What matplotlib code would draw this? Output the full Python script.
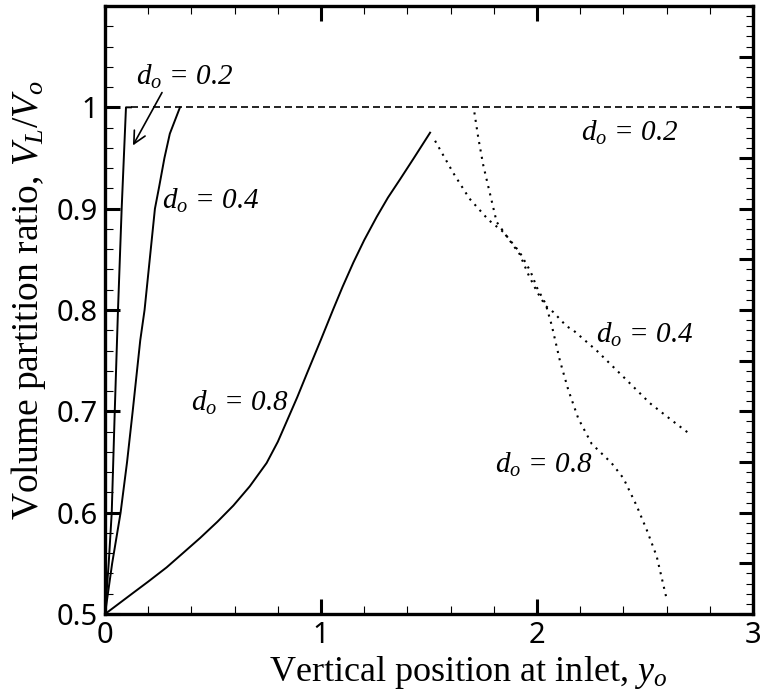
import numpy as np
import matplotlib.pyplot as plt
from matplotlib.ticker import MultipleLocator

plt.rcParams['font.family'] = ['Liberation Serif', 'DejaVu Serif']
plt.rcParams['mathtext.fontset'] = 'custom'
plt.rcParams['mathtext.rm'] = 'Liberation Serif'
plt.rcParams['mathtext.it'] = 'Liberation Serif:italic'

# solid parts (left branch of each d_o)
x02 = [0, 0.017, 0.031, 0.045, 0.060, 0.077, 0.097, 0.12]
y02 = [0.5, 0.55, 0.6, 0.7, 0.8, 0.9, 1.0, 1.0]
x04 = [0, 0.033, 0.072, 0.102, 0.128, 0.163, 0.183, 0.207, 0.231, 0.25, 0.275, 0.30, 0.347]
y04 = [0.5, 0.55, 0.6, 0.65, 0.7, 0.77, 0.8, 0.85, 0.9, 0.921, 0.95, 0.974, 1.0]
x08 = [0, 0.05, 0.131, 0.2, 0.285, 0.36, 0.44, 0.52, 0.594, 0.67, 0.748, 0.80, 0.841,
       0.89, 0.934, 1.0, 1.057, 1.10, 1.15, 1.20, 1.258, 1.31, 1.366, 1.43, 1.505]
y08 = [0.5, 0.508, 0.521, 0.532, 0.546, 0.560, 0.575, 0.591, 0.607, 0.626, 0.649, 0.670, 0.690,
       0.714, 0.737, 0.771, 0.801, 0.823, 0.847, 0.869, 0.892, 0.911, 0.929, 0.950, 0.975]

# right branches
x02r = [0.12, 3.0]
y02r = [1.0, 1.0]
x04r = [1.71, 1.728, 1.751, 1.782, 1.813, 1.862, 1.92, 1.96, 2.0, 2.04, 2.075, 2.137,
        2.168, 2.276, 2.40, 2.523, 2.631, 2.705]
y04r = [0.995, 0.970, 0.943, 0.915, 0.887, 0.872, 0.855, 0.835, 0.818, 0.804, 0.798, 0.784,
        0.780, 0.760, 0.734, 0.708, 0.690, 0.678]
x08r = [1.528, 1.613, 1.687, 1.775, 1.844, 1.92, 1.97, 2.0, 2.04, 2.068, 2.106, 2.145,
        2.191, 2.253, 2.345, 2.40, 2.461, 2.508, 2.554, 2.60]
y08r = [0.967, 0.935, 0.910, 0.889, 0.877, 0.857, 0.838, 0.822, 0.806, 0.785, 0.750, 0.721,
        0.693, 0.668, 0.649, 0.634, 0.607, 0.583, 0.557, 0.515]

fig = plt.figure(figsize=(7.6, 6.98), dpi=100)
ax = fig.add_axes([0.1382, 0.1203, 0.8526, 0.8711])

ax.plot(x02, y02, color='k', lw=1.4)
ax.plot(x04, y04, color='k', lw=1.4)
ax.plot(x08, y08, color='k', lw=1.4)
ax.plot(x02r, y02r, color='k', lw=1.2, linestyle=(0, (4.2, 2.4)))
ax.plot(x04r, y04r, color='k', lw=1.5, linestyle=(0, (1, 2.6)))
ax.plot(x08r, y08r, color='k', lw=1.5, linestyle=(0, (1, 2.6)))

lab = dict(fontsize=21, ha='center', va='center', style='italic')
ax.text(0.37, 1.03, r'$d_o$ = 0.2', **lab)
ax.text(0.49, 0.908, r'$d_o$ = 0.4', **lab)
ax.text(0.625, 0.708, r'$d_o$ = 0.8', **lab)
ax.text(2.43, 0.975, r'$d_o$ = 0.2', **lab)
ax.text(2.50, 0.775, r'$d_o$ = 0.4', **lab)
ax.text(2.03, 0.647, r'$d_o$ = 0.8', **lab)
ax.annotate('', xy=(0.123, 0.96), xytext=(0.27, 1.017),
            arrowprops=dict(arrowstyle='->', color='k', lw=1.2, mutation_scale=22))

ax.set_xlim(0, 3)
ax.set_ylim(0.5, 1.1)
ax.set_xticks([0, 1, 2, 3])
ax.set_yticks([0.5, 0.6, 0.7, 0.8, 0.9, 1.0])
ax.set_yticklabels(['0.5', '0.6', '0.7', '0.8', '0.9', '1'])
ax.xaxis.set_minor_locator(MultipleLocator(0.2))
ax.yaxis.set_minor_locator(MultipleLocator(0.02))
ax.tick_params(which='both', direction='in', top=True, right=False,
               labelfontfamily='Noto Sans', labelsize=21)
ax.tick_params(which='major', length=11, width=2.2)
ax.tick_params(which='minor', length=5.5, width=0.8)
ax.tick_params(axis='x', pad=5)
ax.tick_params(axis='y', pad=5)
for s in ax.spines.values():
    s.set_linewidth(2.4)

# right side ticks are finer in the original
ax2 = ax.twinx()
ax2.set_ylim(0.5, 1.1)
ax2.yaxis.set_major_locator(MultipleLocator(0.05))
ax2.yaxis.set_minor_locator(MultipleLocator(0.01))
ax2.tick_params(which='both', direction='in', labelright=False)
ax2.tick_params(which='major', length=10, width=2.2)
ax2.tick_params(which='minor', length=5, width=0.8)
for s in ax2.spines.values():
    s.set_visible(False)

ax.set_xlabel('Vertical position at inlet, $y_o$', fontsize=26)
ax.set_ylabel('Volume partition ratio, $V_L/V_o$', fontsize=27)
ax.xaxis.set_label_coords(0.56, -0.066)
ax.yaxis.set_label_coords(-0.088, 0.516)

fig.savefig('out.png', dpi=100)
